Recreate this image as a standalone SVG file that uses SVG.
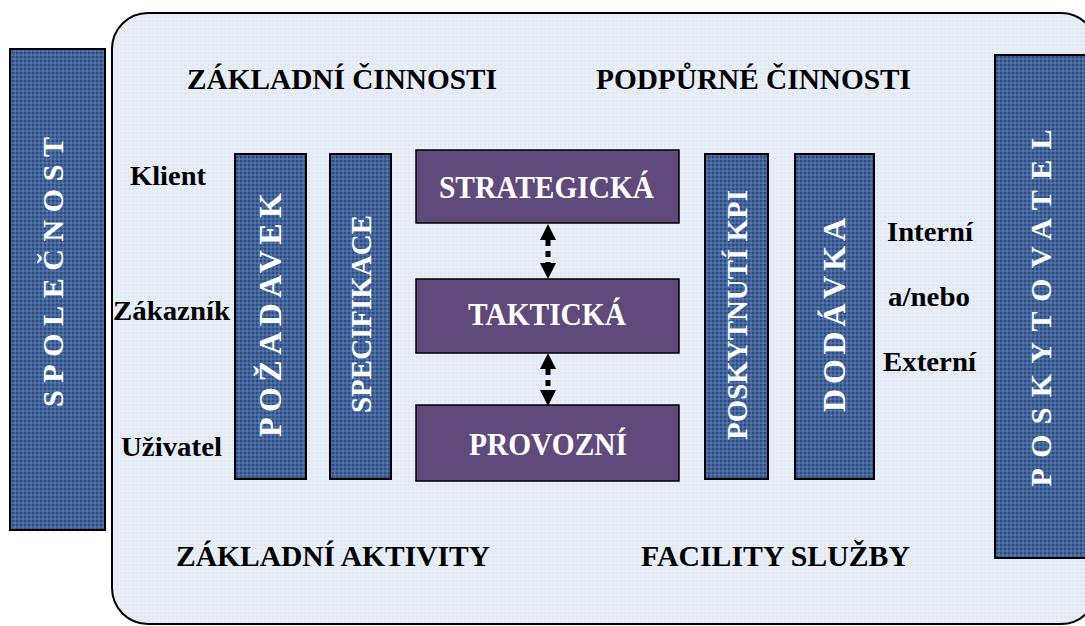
<svg xmlns="http://www.w3.org/2000/svg" width="1085" height="626" viewBox="0 0 1085 626">
  <defs>
    <!-- fine woven texture for the blue bars -->
    <pattern id="blueWeave" width="4" height="4" patternUnits="userSpaceOnUse">
      <rect width="4" height="4" fill="#43659c"/>
      <rect x="0" y="0" width="2" height="2" fill="#2e4c7c"/>
      <rect x="2" y="2" width="2" height="2" fill="#5576ac"/>
    </pattern>
    <!-- faint texture for the main panel -->
    <pattern id="paleWeave" width="4" height="4" patternUnits="userSpaceOnUse">
      <rect width="4" height="4" fill="#e8eef7"/>
      <rect x="0" y="0" width="2" height="2" fill="#e1e8f2"/>
    </pattern>
    <marker id="head" viewBox="0 0 10 10" refX="0" refY="5" markerUnits="userSpaceOnUse" markerWidth="16" markerHeight="19" orient="auto-start-reverse">
      <path d="M0,0 L10,5 L0,10 z" fill="#000"/>
    </marker>
    <style>
      .bar { fill: url(#blueWeave); stroke: #000; stroke-width: 2; }
      .level { fill: #5f4a7b; stroke: #000; stroke-width: 1.5; }
      .white { font-family: "Liberation Serif", "Times New Roman", serif; font-weight: bold; fill: #ffffff; }
      .black { font-family: "Liberation Serif", "Times New Roman", serif; font-weight: bold; fill: #000000; }
      .link { stroke: #000; stroke-width: 5; stroke-dasharray: 6 5; fill: none; }
    </style>
  </defs>

  <rect width="1085" height="626" fill="#ffffff"/>

  <!-- main rounded panel -->
  <g id="panel">
    <rect x="112" y="13" width="985" height="611" rx="36" ry="36" fill="url(#paleWeave)" stroke="#000" stroke-width="2"/>
  </g>

  <g id="spolecnost">
    <rect class="bar" x="10" y="49" width="95" height="481"/>
    <text class="white" font-size="30" text-anchor="middle" transform="translate(63,272) rotate(-90)" textLength="270" lengthAdjust="spacing">SPOLEČNOST</text>
  </g>

  <g id="poskytovatel">
    <rect class="bar" x="995" y="55" width="100" height="503"/>
    <text class="white" font-size="30" text-anchor="middle" transform="translate(1051,308) rotate(-90)" textLength="357" lengthAdjust="spacing">POSKYTOVATEL</text>
  </g>

  <!-- section headings -->
  <g id="headings">
    <text class="black" font-size="29" x="187" y="89" textLength="310" lengthAdjust="spacingAndGlyphs">ZÁKLADNÍ ČINNOSTI</text>
    <text class="black" font-size="29" x="596" y="89" textLength="315" lengthAdjust="spacingAndGlyphs">PODPŮRNÉ ČINNOSTI</text>
    <text class="black" font-size="29" x="176" y="566" textLength="314" lengthAdjust="spacingAndGlyphs">ZÁKLADNÍ AKTIVITY</text>
    <text class="black" font-size="29" x="641" y="566" textLength="269" lengthAdjust="spacingAndGlyphs">FACILITY SLUŽBY</text>
  </g>

  <g id="customers">
    <text class="black" font-size="28" x="130" y="185" textLength="76" lengthAdjust="spacingAndGlyphs">Klient</text>
    <text class="black" font-size="28" x="113" y="320" textLength="117" lengthAdjust="spacingAndGlyphs">Zákazník</text>
    <text class="black" font-size="28" x="121" y="456" textLength="101" lengthAdjust="spacingAndGlyphs">Uživatel</text>
  </g>

  <g id="providers">
    <text class="black" font-size="28" x="887" y="241" textLength="86" lengthAdjust="spacingAndGlyphs">Interní</text>
    <text class="black" font-size="28" x="888" y="306" textLength="82" lengthAdjust="spacingAndGlyphs">a/nebo</text>
    <text class="black" font-size="28" x="883" y="371" textLength="93" lengthAdjust="spacingAndGlyphs">Externí</text>
  </g>

  <g id="pozadavek">
    <rect class="bar" x="235" y="154" width="71" height="325"/>
    <text class="white" font-size="32" text-anchor="middle" transform="translate(281,315) rotate(-90)" textLength="244" lengthAdjust="spacing">POŽADAVEK</text>
  </g>

  <g id="specifikace">
    <rect class="bar" x="330" y="154" width="61" height="325"/>
    <text class="white" font-size="30" text-anchor="middle" transform="translate(371,314) rotate(-90)" textLength="198" lengthAdjust="spacingAndGlyphs">SPECIFIKACE</text>
  </g>

  <g id="strategicka">
    <rect class="level" x="416" y="150" width="263" height="73"/>
    <text class="white" font-size="31" x="439" y="198" textLength="215" lengthAdjust="spacingAndGlyphs">STRATEGICKÁ</text>
  </g>

  <g id="takticka">
    <rect class="level" x="416" y="279" width="263" height="74"/>
    <text class="white" font-size="31" x="468" y="325" textLength="158" lengthAdjust="spacingAndGlyphs">TAKTICKÁ</text>
  </g>

  <g id="provozni">
    <rect class="level" x="416" y="405" width="263" height="76"/>
    <text class="white" font-size="31" x="469" y="455" textLength="158" lengthAdjust="spacingAndGlyphs">PROVOZNÍ</text>
  </g>

  <g id="poskytnuti-kpi">
    <rect class="bar" x="705" y="154" width="63" height="325"/>
    <text class="white" font-size="30" text-anchor="middle" transform="translate(747,315) rotate(-90)" textLength="250" lengthAdjust="spacingAndGlyphs">POSKYTNUTÍ KPI</text>
  </g>

  <g id="dodavka">
    <rect class="bar" x="795" y="154" width="79" height="325"/>
    <text class="white" font-size="32" text-anchor="middle" transform="translate(845,315) rotate(-90)" textLength="194" lengthAdjust="spacing">DODÁVKA</text>
  </g>

  <!-- two-way links between management levels -->
  <g id="connectors">
    <line class="link" x1="548" y1="240" x2="548" y2="263" marker-start="url(#head)" marker-end="url(#head)"/>
    <line class="link" x1="548" y1="369" x2="548" y2="390" marker-start="url(#head)" marker-end="url(#head)"/>
  </g>
</svg>
